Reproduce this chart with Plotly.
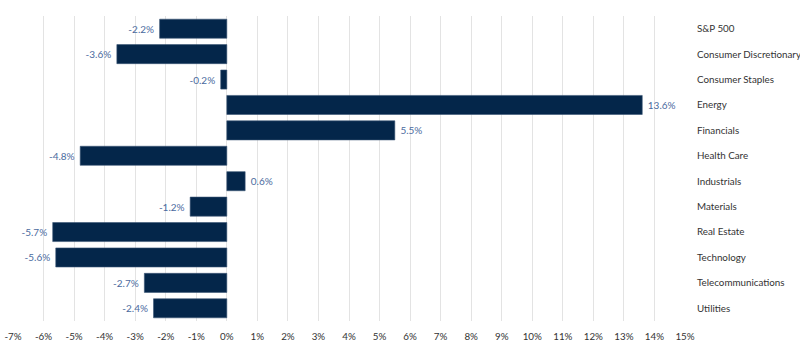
import plotly.graph_objects as go

categories = ["S&P 500", "Consumer Discretionary", "Consumer Staples", "Energy",
              "Financials", "Health Care", "Industrials", "Materials",
              "Real Estate", "Technology", "Telecommunications", "Utilities"]
values = [-2.2, -3.6, -0.2, 13.6, 5.5, -4.8, 0.6, -1.2, -5.7, -5.6, -2.7, -2.4]
tick_vals = list(range(-7, 16))
tick_text = [f"{v}%" for v in tick_vals]

nb = "\u00a0"
labels = [(nb + f"{v:.1f}%") if v >= 0 else (f"{v:.1f}%" + nb) for v in values]

fig = go.Figure(go.Bar(
    x=values, y=categories, orientation="h",
    marker=dict(color="#04264a", line=dict(color="#3a5576", width=0.6)),
    text=labels,
    textposition="outside",
    textfont=dict(color="#4a6a9e", size=10, family="Lato, sans-serif"),
    cliponaxis=False,
    hoverinfo="skip",
))

fig.update_layout(
    width=800, height=357,
    margin=dict(l=13, r=115, t=16, b=36, autoexpand=False),
    plot_bgcolor="white", paper_bgcolor="white",
    bargap=0.25,
    showlegend=False,
    font=dict(family="Lato, sans-serif", size=9.8, color="#333333"),
    xaxis=dict(range=[-7, 15], tickvals=tick_vals, ticktext=tick_text,
               showgrid=True, gridcolor="#e3e3e3", gridwidth=1,
               zeroline=False, showline=False, ticks="", automargin=False,
               ticklabelstandoff=8, ticklabeloverflow="allow",
               tickfont=dict(size=9.8, color="#333333")),
    yaxis=dict(side="right", autorange="reversed", showgrid=False,
               zeroline=False, showline=False, ticks="", automargin=False,
               ticklabelstandoff=11, ticklabeloverflow="allow",
               tickfont=dict(size=9.8, color="#333333")),
)

fig.write_html("out.html",
               config={"displayModeBar": False},
               post_script="document.body.style.margin='0';document.body.style.overflow='hidden';")
